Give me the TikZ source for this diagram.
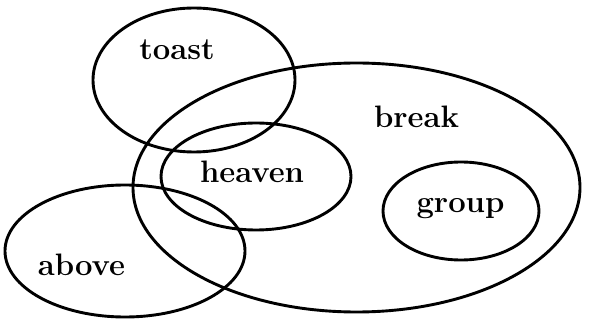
\documentclass[tikz,border=0pt]{standalone}
\usepackage{fontspec}
\begin{document}
\begin{tikzpicture}[x=1pt,y=-1pt,
  setline/.style={line width=2.9pt},
  lbl/.style={anchor=base,inner sep=0pt,font=\fontsize{31}{32}\selectfont\bfseries}]
\useasboundingbox (0,0) rectangle (589,323);
\coordinate (ctoast) at (194,80);
\coordinate (cbreak) at (356.5,187.5);
\coordinate (cheaven) at (256,176.5);
\coordinate (cgroup) at (461,211);
\coordinate (cabove) at (125,251);
\draw[setline] (ctoast) ellipse [x radius=101, y radius=72];
\draw[setline] (cbreak) ellipse [x radius=223.5, y radius=124.5];
\draw[setline] (cheaven) ellipse [x radius=95, y radius=53.5];
\draw[setline] (cgroup) ellipse [x radius=78, y radius=49];
\draw[setline] (cabove) ellipse [x radius=120, y radius=66];
\node[lbl] (toast) at (177,60) {toast};
\node[lbl] (break) at (416.5,128) {break};
\node[lbl] (heaven) at (252,183) {heaven};
\node[lbl] (group) at (460.5,213) {group};
\node[lbl] (above) at (81.5,276) {above};
\end{tikzpicture}
\end{document}
